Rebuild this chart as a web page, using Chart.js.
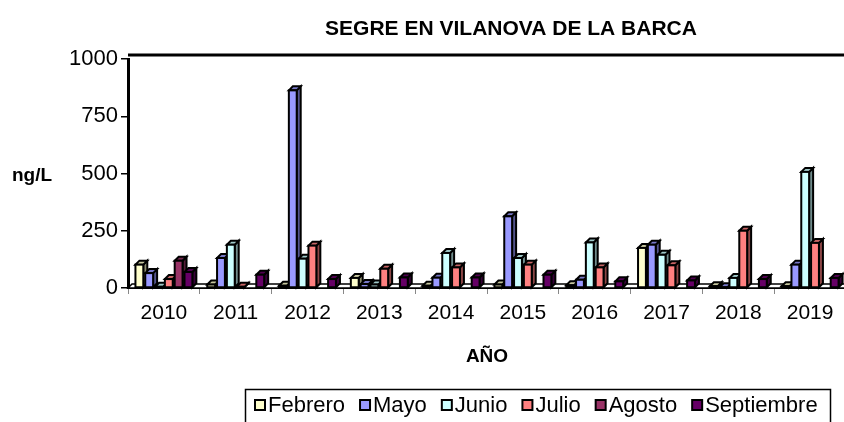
<!DOCTYPE html>
<html lang="es">
<head>
<meta charset="UTF-8">
<title>Segre en Vilanova de la Barca</title>
<style>
  html, body { margin: 0; padding: 0; overflow: hidden; background: #fff; }
  #wrap { width: 844px; height: 422px; overflow: hidden; }
</style>
</head>
<body>
<div id="wrap">
  <canvas id="chart" width="860" height="422"></canvas>
</div>
<script src="https://cdn.jsdelivr.net/npm/chart.js@4.4.1/dist/chart.umd.min.js"></script>
<script>
// data (ng/L)
const years = ["2010", "2011", "2012", "2013", "2014", "2015", "2016", "2017", "2018", "2019"];
const febrero    = [102, 15, 10, 44, 10, 15, 12, 175, 8, 8];
const mayo       = [65, 131, 863, 17, 45, 313, 36, 189, 3, 102];
const junio      = [5, 189, 128, 15, 153, 131, 199, 145, 44, 507];
const julio      = [39, 5, 185, 84, 90, 102, 90, 99, 250, 197];
const agosto     = [119, 0, 0, 0, 0, 0, 0, 0, 0, 0];
const septiembre = [70, 58, 39, 46, 46, 58, 29, 33, 39, 44];

const seriesNames  = ["Febrero", "Mayo", "Junio", "Julio", "Agosto", "Septiembre"];
const seriesValues = [febrero, mayo, junio, julio, agosto, septiembre];
const seriesColors = ["#FFFFCC", "#9999FF", "#CCFFFF", "#FF8080", "#993366", "#660066"];
const yTicks = [0, 250, 500, 750, 1000];

const FONT = '"Liberation Sans", Arial, sans-serif';
const depth = 4;

// darken a hex colour
function shade(hex, f) {
  const n = parseInt(hex.slice(1), 16);
  const r = Math.round(((n >> 16) & 255) * f);
  const g = Math.round(((n >> 8) & 255) * f);
  const b = Math.round((n & 255) * f);
  return "rgb(" + r + "," + g + "," + b + ")";
}

function poly(ctx, pts, fill) {
  ctx.beginPath();
  ctx.moveTo(pts[0][0], pts[0][1]);
  for (let k = 1; k < pts.length; k++) ctx.lineTo(pts[k][0], pts[k][1]);
  ctx.closePath();
  ctx.fillStyle = fill;
  ctx.fill();
  ctx.stroke();
}

// excel-like 3d bars, drawn from the bar elements the library laid out
const bars3d = {
  id: "bars3d",
  beforeDatasetDraw() { return false; },
  afterDatasetsDraw(chart) {
    const ctx = chart.ctx;
    const area = chart.chartArea;
    const base = chart.scales.y.getPixelForValue(0);
    ctx.save();
    ctx.strokeStyle = "#000";
    ctx.lineJoin = "miter";

    // back wall top edge
    ctx.beginPath();
    ctx.lineWidth = 3;
    ctx.moveTo(area.left, area.top - depth);
    ctx.lineTo(chart.width, area.top - depth);
    ctx.stroke();

    // floor
    ctx.lineWidth = 1.5;
    poly(ctx, [[area.left, base], [area.left + depth, base - depth],
               [chart.width, base - depth], [chart.width, base]], "#fff");

    ctx.lineWidth = 2;
    const metas = chart.data.datasets.map((d, i) => chart.getDatasetMeta(i));
    for (let j = 0; j < years.length; j++) {
      for (let i = 0; i < metas.length; i++) {
        const v = chart.data.datasets[i].data[j];
        if (!v) continue;
        const el = metas[i].data[j];
        const p = el.getProps(["x", "y", "base", "width"], true);
        const l = p.x - p.width / 2, r = p.x + p.width / 2;
        const col = seriesColors[i];
        poly(ctx, [[r, p.y], [r + depth, p.y - depth], [r + depth, p.base - depth], [r, p.base]], shade(col, 0.55));
        poly(ctx, [[l, p.y], [l + depth, p.y - depth], [r + depth, p.y - depth], [r, p.y]], shade(col, 0.78));
        ctx.fillStyle = col;
        ctx.fillRect(l, p.y, p.width, p.base - p.y);
        ctx.strokeRect(l, p.y, p.width, p.base - p.y);
      }
    }
    ctx.restore();
  }
};

// titles and legend box
const decorations = {
  id: "decorations",
  afterDraw(chart) {
    const ctx = chart.ctx;
    const area = chart.chartArea;
    ctx.save();
    ctx.fillStyle = "#000";
    ctx.textBaseline = "alphabetic";

    ctx.font = "bold 21px " + FONT;
    ctx.textAlign = "center";
    ctx.fillText("SEGRE EN VILANOVA DE LA BARCA", 511, 35);

    ctx.font = "bold 19px " + FONT;
    ctx.fillText("AÑO", (area.left + area.right) / 2, 362);

    ctx.textAlign = "left";
    ctx.fillText("ng/L", 12, 181);

    // legend
    ctx.strokeStyle = "#000";
    ctx.lineWidth = 1.5;
    ctx.strokeRect(245.5, 389.5, 585, 45);
    ctx.font = "22px " + FONT;
    ctx.lineWidth = 2;
    let x = 255;
    chart.data.datasets.forEach((ds) => {
      ctx.fillStyle = ds.backgroundColor;
      ctx.fillRect(x, 400, 10, 10);
      ctx.strokeRect(x, 400, 10, 10);
      ctx.fillStyle = "#000";
      ctx.fillText(ds.label, x + 13, 412);
      x += 13 + ctx.measureText(ds.label).width + 15;
    });
    ctx.restore();
  }
};

const datasets = seriesNames.map((name, i) => ({
  label: name,
  data: seriesValues[i],
  backgroundColor: seriesColors[i],
  borderColor: "#000",
  borderWidth: 2,
  categoryPercentage: 0.82,
  barPercentage: 0.8
}));

new Chart(document.getElementById("chart"), {
  type: "bar",
  data: { labels: years, datasets: datasets },
  plugins: [bars3d, decorations],
  options: {
    responsive: false,
    animation: false,
    layout: { padding: { top: 59, right: 14, bottom: 0, left: 0 } },
    plugins: {
      legend: { display: false },
      tooltip: { enabled: false },
      title: { display: false }
    },
    scales: {
      x: {
        afterFit(scale) { scale.height = 134; },
        grid: { offset: true, drawOnChartArea: false, tickLength: 6, color: "#888" },
        border: { color: "#000", width: 2 },
        ticks: { color: "#000", font: { family: FONT, size: 21 }, padding: 7, maxRotation: 0, autoSkip: false }
      },
      y: {
        min: 0,
        max: 1000,
        afterFit(scale) { scale.width = 128; },
        afterBuildTicks(scale) { scale.ticks = yTicks.map(v => ({ value: v })); },
        grid: { drawOnChartArea: false, tickLength: 7, color: "#000", lineWidth: 1.5 },
        border: { color: "#000", width: 3 },
        ticks: { color: "#000", font: { family: FONT, size: 22 }, padding: 3, callback: (v) => String(v) }
      }
    }
  }
});
</script>
</body>
</html>
